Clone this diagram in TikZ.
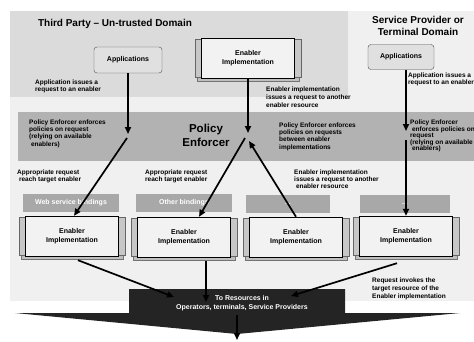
\documentclass[tikz,border=0pt]{standalone}
\usepackage{fontspec}
\setmainfont{Liberation Sans}
\usetikzlibrary{calc,arrows.meta}

\newcommand{\implbox}[3]{%
  \fill[black!25,draw=black!55] ($(#2,#3)+(-51,16)$) rectangle ($(#2,#3)+(51,23)$);
  \fill[black!22,draw=black!60] ($(#2,#3)+(-53,-19)$) rectangle ($(#2,#3)+(-46,19)$);
  \fill[black!22,draw=black!60] ($(#2,#3)+(46,-19)$) rectangle ($(#2,#3)+(53,19)$);
  \node[impl] (#1) at (#2,#3) {Enabler\\Implementation};}

\begin{document}
\begin{tikzpicture}[x=1pt,y=-1pt]
                      \tikzstyle{lbl}=[align=left,anchor=north west,inner sep=0pt,font=\fontsize{6.5}{7.2}\selectfont\bfseries]
                      \tikzstyle{lblw}=[lbl,font=\fontsize{6.5}{8.2}\selectfont\bfseries]
                      \tikzstyle{app}=[draw=black!70,fill=black!12,rounded corners=3pt,minimum width=68pt,minimum height=26pt,font=\fontsize{7}{8}\selectfont\bfseries]
                      \tikzstyle{impl}=[draw=black,fill=black!5,minimum width=93pt,minimum height=40pt,inner sep=0pt,align=center,font=\fontsize{7}{9}\selectfont\bfseries]
                      \tikzstyle{bind}=[fill=black!34,text=white,minimum width=96pt,minimum height=18pt,inner sep=0pt,font=\fontsize{7}{8}\selectfont\bfseries]
                      \tikzstyle{arr}=[line width=1.7pt,-{Triangle[length=7pt,width=6pt]}]
                      \useasboundingbox (0,0) rectangle (474,341);
                      \fill[black!6] (10,11) rectangle (474,301);
                      \fill[black!14] (10,11) rectangle (348,97);
                      \fill[black!30] (18,112) rectangle (474,161);
                      \fill[black!86] (129,289) -- (345,289) -- (345,313) -- (460,313) -- (237,334) -- (15,313) -- (129,313) -- cycle;
                      \node[font=\fontsize{10}{12}\selectfont\bfseries] (tp) at (115,24) {Third Party -- Un-trusted Domain};
                      \node[align=center,font=\fontsize{10}{12}\selectfont\bfseries] (sp) at (418,26) {Service Provider or\\Terminal Domain};
                      \node[align=center,font=\fontsize{11.5}{14}\selectfont\bfseries] (pe) at (206,135) {Policy\\Enforcer};
                      \node[app] (appa) at (128,60) {Applications};
                      \node[app,minimum width=66pt,minimum height=25pt] (appb) at (401,57) {Applications};
                      \implbox{eia}{248}{58}
                      \node[bind] (wsb) at (71,203) {Web service bindings};
                      \node[bind] (ob) at (184,203) {Other bindings};
                      \node[bind,minimum width=84pt] (dota) at (288,204) {...};
                      \node[bind,minimum width=90pt] (dotb) at (405,204) {...};
                      \implbox{eib}{72}{236}
                      \implbox{eic}{184}{237}
                      \implbox{eid}{296}{237}
                      \implbox{eie}{406}{236}
                      \node[lbl] (la) at (35,79.5) {Application issues a\\request to an enabler};
                      \node[lblw] (lb) at (266,86.5) {Enabler implementation\\issues a request to another\\enabler resource};
                      \node[lbl] (lc) at (408,72.5) {Application issues a\\request to an enabler};
                      \node[lbl] (ld) at (29,119.5) {Policy Enforcer enforces\\policies on request\\(relying on available\\\ enablers)};
                      \node[lbl] (le) at (279,122.5) {Policy Enforcer enforces\\policies on requests\\between enabler\\implementations};
                      \node[lbl,font=\fontsize{6.5}{6.6}\selectfont\bfseries] (lf) at (410,119.5) {Policy Enforcer\\\ enforces policies on\\request\\(relying on available\\\ enablers)};
                      \node[lbl] (lg) at (17,169.5) {Appropriate request\\\ reach target enabler};
                      \node[lbl] (lh) at (145,169.5) {Appropriate request\\reach target enabler};
                      \node[lbl] (li) at (294,169.5) {Enabler implementation\\issues a request to another\\\ enabler resource};
                      \node[lblw] (lj) at (372,277.5) {Request invokes the\\target resource of the\\Enabler implementation};
                      \node[align=center,text=white,font=\fontsize{7}{9.5}\selectfont\bfseries] (res) at (242,303) {To Resources in\\Operators, terminals, Service Providers};
                      \coordinate (pa) at (128,134);
                      \coordinate (pa2) at (127,138);
                      \coordinate (pb) at (248,133);
                      \coordinate (pb2) at (245,138);
                      \coordinate (pb3) at (249,141);
                      \coordinate (pc) at (406,131);
                      \coordinate (pc2) at (406,140);
                      \coordinate (ta) at (174,297);
                      \coordinate (tb) at (206,302);
                      \coordinate (tc) at (291,296);
                      \coordinate (td) at (237,315);
                      \coordinate (te) at (237,340);
                      \draw[arr] (appa.south) -- (pa);
                      \draw[arr] (pa2) -- ($(eib.north)+(2,0)$);
                      \draw[arr] (eia.south) -- (pb);
                      \draw[arr] (pb2) -- ($(eic.north)+(15,0)$);
                      \draw[arr] (eid.north) -- (pb3);
                      \draw[arr] ($(appb.south)+(5,0)$) -- (pc);
                      \draw[arr] (pc2) -- (eie.north);
                      \draw[arr] ($(eib.south)+(6,4)$) -- (ta);
                      \draw[arr] ($(eic.south)+(22,4)$) -- (tb);
                      \draw[arr] ($(eie.south)+(-9,7)$) -- (tc);
                      \draw[arr] (td) -- (te);
                  \end{tikzpicture}
\end{document}
